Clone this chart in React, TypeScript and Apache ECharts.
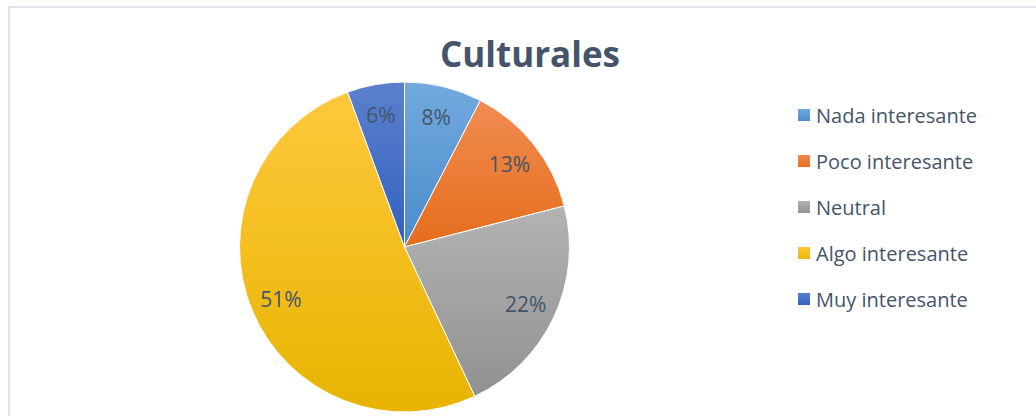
import React, { useEffect, useRef } from "react";
import * as echarts from "echarts";

const titleText = "Culturales";
const categories = ["Nada interesante", "Poco interesante", "Neutral", "Algo interesante", "Muy interesante"];
const values = [7.6, 13.4, 22.0, 51.4, 5.6];
const topColors = ["#72aade", "#f18c52", "#b3b3b3", "#ffc83d", "#5b81cd"];
const bottomColors = ["#4a8bcb", "#e56d1c", "#919191", "#e8b400", "#3360c0"];

const FONT = "'Open Sans', 'Noto Sans', sans-serif";
const TEXT_COLOR = "#44546A";

function grad(i: number) {
  return new echarts.graphic.LinearGradient(0, 0, 0, 1, [
    { offset: 0, color: topColors[i] },
    { offset: 1, color: bottomColors[i] },
  ]);
}

export default function App() {
  const ref = useRef<HTMLDivElement>(null);
  useEffect(() => {
    if (!ref.current) return;
    const chart = echarts.init(ref.current, undefined, { renderer: "svg" });
    const pieData = categories.map((name, i) => ({
      name,
      value: values[i],
      itemStyle: { color: grad(i) },
    }));
    const labelData = categories.map((name, i) => ({ name, value: values[i] }));
    chart.setOption({
      animation: false,
      backgroundColor: "#ffffff",
      title: {
        text: titleText,
        left: 525,
        top: 31,
        textAlign: "center",
        textStyle: { fontFamily: FONT, fontWeight: "bold", fontSize: 35, color: TEXT_COLOR },
      },
      legend: {
        orient: "vertical",
        left: 791,
        top: 100,
        icon: "rect",
        itemWidth: 14,
        itemHeight: 14,
        itemGap: 26,
        data: categories,
        selectedMode: false,
        textStyle: { fontFamily: FONT, fontSize: 20, color: TEXT_COLOR, lineHeight: 20 },
      },
      graphic: [
        {
          type: "rect",
          shape: { x: 9, y: 7, width: 1100, height: 500 },
          style: { fill: "none", stroke: "#e1e4e9", lineWidth: 2 },
          silent: true,
          z: -10,
        },
      ],
      series: [
        {
          type: "pie",
          center: [404.5, 247],
          radius: [0, 165],
          startAngle: 90,
          clockwise: true,
          label: { show: false },
          labelLine: { show: false },
          emphasis: { disabled: true },
          itemStyle: { borderColor: "#ffffff", borderWidth: 1 },
          data: pieData,
        },
        {
          type: "pie",
          center: [404.5, 247],
          radius: [97, 165],
          startAngle: 90,
          clockwise: true,
          silent: true,
          emphasis: { disabled: true },
          itemStyle: { color: "rgba(0,0,0,0)" },
          label: {
            show: true,
            position: "inside",
            fontFamily: FONT,
            fontSize: 21,
            color: TEXT_COLOR,
            formatter: (p: any) => Math.round(p.percent) + "%",
          },
          labelLine: { show: false },
          data: labelData,
        },
      ],
    });
    return () => chart.dispose();
  }, []);
  return (
    <div
      ref={ref}
      style={{ position: "absolute", left: 0, top: 0, width: 1036, height: 416 }}
    />
  );
}
